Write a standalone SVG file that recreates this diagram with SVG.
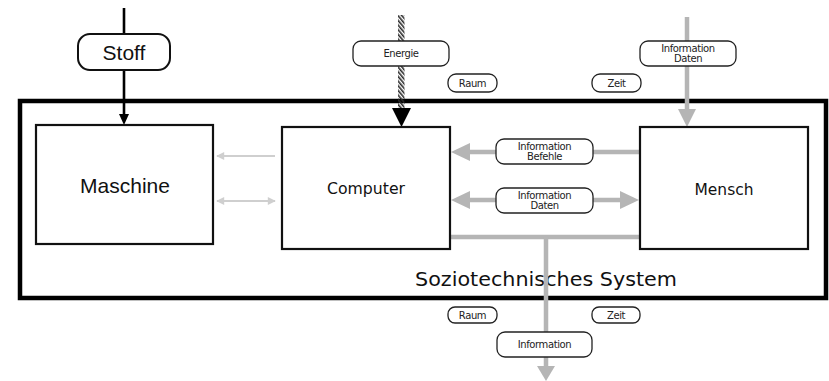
<svg xmlns="http://www.w3.org/2000/svg" width="829" height="381" viewBox="0 0 829 381">
  <style>
    .box { fill: #fff; stroke: #111; stroke-width: 2.2; }
    .pill { fill: #fff; stroke: #222; stroke-width: 1.3; }
    .lbl { font-family: "Liberation Sans", Arial, sans-serif; fill: #111; text-anchor: middle; }
    .geo { font-family: "DejaVu Sans", "Liberation Sans", sans-serif; }
    .small { font-family: "DejaVu Sans", "Liberation Sans", sans-serif; font-size: 10px; fill: #222; text-anchor: middle; letter-spacing: -0.4px; }
    .flow { stroke: #b5b5b5; stroke-width: 4.5; fill: none; }
    .thin { stroke: #cfcfcf; stroke-width: 2.2; fill: none; }
  </style>
  <defs>
    <pattern id="hatch" width="3" height="3" patternUnits="userSpaceOnUse" patternTransform="rotate(-40)">
      <rect x="0" y="0" width="1.6" height="3" fill="#2a2a2a"/>
    </pattern>
    <marker id="thinHead" viewBox="0 0 10 10" refX="9" refY="5" markerWidth="10" markerHeight="8" markerUnits="userSpaceOnUse" orient="auto-start-reverse">
      <path d="M0,0 L10,5 L0,10 Z" fill="#cfcfcf"/>
    </marker>
  </defs>

  <!-- system boundary -->
  <rect x="20" y="101" width="806" height="197" fill="none" stroke="#000" stroke-width="4.5"/>
  <text x="546" y="286" class="lbl geo" font-size="20" textLength="262" lengthAdjust="spacingAndGlyphs">Soziotechnisches System</text>

  <g id="connectors">
    <!-- Stoff input -->
    <line x1="124" y1="8" x2="124" y2="116" stroke="#000" stroke-width="2.6"/>
    <path d="M119,114 L129,114 L124,125 Z" fill="#000"/>

    <!-- Energie input -->
    <rect x="398" y="15" width="6.5" height="95" fill="url(#hatch)"/>
    <path d="M392,108 L411,108 L401.5,127 Z" fill="#000"/>

    <!-- Information/Daten input to Mensch -->
    <line x1="687" y1="17" x2="687" y2="111" class="flow"/>
    <path d="M678,109 L696,109 L687,127 Z" fill="#b5b5b5"/>

    <!-- Mensch to Computer: Befehle -->
    <line x1="640" y1="152" x2="468" y2="152" class="flow"/>
    <path d="M470,143 L470,161 L451,152 Z" fill="#b5b5b5"/>

    <!-- Computer and Mensch: Daten -->
    <line x1="468" y1="200" x2="622" y2="200" class="flow"/>
    <path d="M470,191 L470,209 L451,200 Z" fill="#b5b5b5"/>
    <path d="M620,191 L620,209 L639,200 Z" fill="#b5b5b5"/>

    <!-- output bus -->
    <line x1="450" y1="237" x2="640" y2="237" class="flow"/>
    <line x1="546" y1="237" x2="546" y2="368" class="flow"/>
    <path d="M537,366 L555,366 L546,381 Z" fill="#b5b5b5"/>

    <!-- Computer and Maschine -->
    <line x1="275" y1="156" x2="217" y2="156" class="thin" marker-end="url(#thinHead)"/>
    <line x1="217" y1="201" x2="275" y2="201" class="thin" marker-start="url(#thinHead)" marker-end="url(#thinHead)"/>
  </g>

  <g id="maschine">
    <rect x="36" y="125" width="177" height="119" class="box"/>
    <text x="125" y="193" class="lbl" font-size="21">Maschine</text>
  </g>

  <g id="computer">
    <rect x="282" y="127" width="168" height="122" class="box"/>
    <text x="366" y="194" class="lbl geo" font-size="16" textLength="78" lengthAdjust="spacingAndGlyphs">Computer</text>
  </g>

  <g id="mensch">
    <rect x="640" y="127" width="168" height="122" class="box"/>
    <text x="724" y="195" class="lbl geo" font-size="16" textLength="59" lengthAdjust="spacingAndGlyphs">Mensch</text>
  </g>

  <g id="stoff">
    <rect x="78" y="34" width="92" height="36" rx="12" fill="#fff" stroke="#111" stroke-width="2"/>
    <text x="124" y="60" class="lbl" font-size="21">Stoff</text>
  </g>

  <g id="energie">
    <rect x="353" y="41" width="96" height="25" rx="8" class="pill"/>
    <text x="401" y="57" class="small">Energie</text>
  </g>

  <g id="raum-in">
    <rect x="448" y="74" width="49" height="18" rx="8" class="pill"/>
    <text x="472.5" y="87" class="small">Raum</text>
  </g>

  <g id="zeit-in">
    <rect x="592" y="74" width="49" height="18" rx="8" class="pill"/>
    <text x="616.5" y="87" class="small">Zeit</text>
  </g>

  <g id="info-daten-in">
    <rect x="640" y="41" width="96" height="25" rx="8" class="pill"/>
    <text x="688" y="52" class="small">Information</text>
    <text x="688" y="62" class="small">Daten</text>
  </g>

  <g id="info-befehle">
    <rect x="496" y="139" width="97" height="25" rx="8" class="pill"/>
    <text x="544.5" y="150" class="small">Information</text>
    <text x="544.5" y="160" class="small">Befehle</text>
  </g>

  <g id="info-daten">
    <rect x="496" y="188" width="97" height="25" rx="8" class="pill"/>
    <text x="544.5" y="199" class="small">Information</text>
    <text x="544.5" y="209" class="small">Daten</text>
  </g>

  <g id="raum-out">
    <rect x="448" y="307" width="49" height="16" rx="7" class="pill"/>
    <text x="472.5" y="319" class="small">Raum</text>
  </g>

  <g id="zeit-out">
    <rect x="592" y="307" width="48" height="16" rx="7" class="pill"/>
    <text x="616" y="319" class="small">Zeit</text>
  </g>

  <g id="information-out">
    <rect x="497" y="332" width="95" height="25" rx="8" class="pill"/>
    <text x="544.5" y="348" class="small">Information</text>
  </g>
</svg>
